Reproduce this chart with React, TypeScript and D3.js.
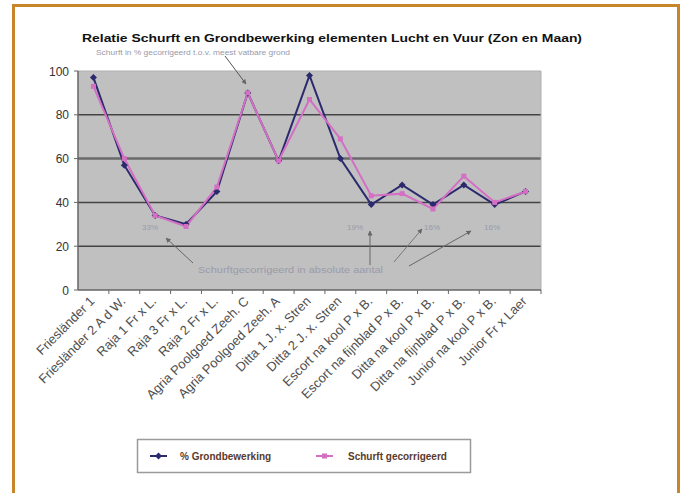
import React from "react";
import * as d3 from "d3";

const categories = [
  "Friesländer 1",
  "Friesländer 2 A d W.",
  "Raja 1 Fr x L.",
  "Raja 3 Fr x L.",
  "Raja 2 Fr x L.",
  "Agria Poolgoed Zeeh. C",
  "Agria Poolgoed Zeeh. A",
  "Ditta 1 J. x. Stren",
  "Ditta 2 J. x. Stren",
  "Escort na kool P x B.",
  "Escort na fijnblad P x B.",
  "Ditta na kool P x B.",
  "Ditta na fijnblad P x B.",
  "Junior na kool P x B.",
  "Junior Fr x Laer",
];
const grondbewerking = [97, 57, 34, 30, 45, 90, 59, 98, 60, 39, 48, 39, 48, 39, 45];
const schurft = [93, 60, 34, 29, 47, 90, 59, 87, 69, 43, 44, 37, 52, 40, 45];
const yTicks = [0, 20, 40, 60, 80, 100];
const seriesNames = ["% Grondbewerking", "Schurft gecorrigeerd"];
const pctLabels = ["33%", "19%", "16%", "16%"];
const title = "Relatie Schurft en Grondbewerking elementen Lucht en Vuur (Zon en Maan)";
const noteTop = "Schurft in % gecorrigeerd t.o.v. meest vatbare grond";
const noteBottom = "Schurftgecorrigeerd in absolute aantal";

export default function App() {
  const left = 78, right = 541, top = 71, bottom = 290;
  const x = d3.scaleBand().domain(categories).range([left, right]);
  const y = d3.scaleLinear().domain([0, 100]).range([bottom, top]);
  const cx = (c: string) => (x(c) as number) + x.bandwidth() / 2;
  const line = d3.line<number>().x((_, i) => cx(categories[i])).y((v) => y(v));
  const navy = "#2b2a6e";
  const pink = "#d46fc4";
  const font = "Arial, 'Liberation Sans', sans-serif";
  const annGray = "#9a9aaa";

  return (
    <svg width={681} height={493} style={{ position: "absolute", left: 0, top: 0 }} fontFamily={font}>
      <defs>
        <marker id="ah" viewBox="0 0 10 10" refX="9" refY="5" markerWidth="5" markerHeight="5" orient="auto">
          <path d="M0,0 L10,5 L0,10 z" fill="#666" />
        </marker>
      </defs>
      <rect x={0} y={0} width={681} height={493} fill="#ffffff" />
      <rect x={13.5} y={5.5} width={665} height={500} fill="#ffffff" stroke="#c8862a" strokeWidth={3} />
      <text x={82} y={42} fontSize={11.5} fontWeight="bold" fill="#111" textLength={500} lengthAdjust="spacingAndGlyphs">{title}</text>
      <text x={96} y={55} fontSize={7} fill={annGray} textLength={194} lengthAdjust="spacingAndGlyphs">{noteTop}</text>

      <rect x={left} y={top} width={right - left} height={bottom - top} fill="#c0c0c0" />
      {yTicks.filter((t) => t > 0 && t < 100).map((t) => (
        <line key={t} x1={left} x2={right} y1={y(t)} y2={y(t)} stroke={t === 60 ? "#6a6a6a" : "#444"} strokeWidth={t === 60 ? 2.5 : 1.5} />
      ))}
      <line x1={left} x2={right} y1={top} y2={top} stroke="#b0b0b0" strokeWidth={1} />
      <line x1={right} x2={right} y1={top} y2={bottom} stroke="#b0b0b0" strokeWidth={1} />
      <line x1={left} x2={left} y1={top} y2={bottom} stroke="#666" strokeWidth={1.5} />
      <line x1={left} x2={right} y1={bottom} y2={bottom} stroke="#666" strokeWidth={1.5} />
      {yTicks.map((t) => (
        <g key={t}>
          <line x1={left - 4} x2={left} y1={y(t)} y2={y(t)} stroke="#666" />
          <text x={left - 9} y={y(t) + 4.5} textAnchor="end" fontSize={12} fill="#333">{t}</text>
        </g>
      ))}
      {categories.map((c, i) => (
        <line key={"t" + i} x1={(x(c) as number) + x.bandwidth()} x2={(x(c) as number) + x.bandwidth()} y1={bottom} y2={bottom + 4} stroke="#666" />
      ))}
      {categories.map((c, i) => (
        <text key={"l" + i} transform={`translate(${cx(c) + 2},${bottom + 12}) rotate(-45)`} textAnchor="end" fontSize={13} fill="#505050">{c}</text>
      ))}

      {/* annotations */}
      <line x1={225} y1={56} x2={246} y2={84} stroke="#555" strokeWidth={1} markerEnd="url(#ah)" />
      <text x={142} y={230} fontSize={8} fill={annGray}>{pctLabels[0]}</text>
      <text x={347} y={230} fontSize={8} fill={annGray}>{pctLabels[1]}</text>
      <text x={424} y={230} fontSize={8} fill={annGray}>{pctLabels[2]}</text>
      <text x={484} y={230} fontSize={8} fill={annGray}>{pctLabels[3]}</text>
      <text x={198} y={273} fontSize={8.5} fill={annGray} textLength={185} lengthAdjust="spacingAndGlyphs">{noteBottom}</text>
      <line x1={193} y1={263} x2={166} y2={238} stroke="#666" strokeWidth={1} markerEnd="url(#ah)" />
      <line x1={370} y1={265} x2={370} y2={231} stroke="#666" strokeWidth={1} markerEnd="url(#ah)" />
      <line x1={394} y1={262} x2={422} y2={229} stroke="#777" strokeWidth={1} markerEnd="url(#ah)" />
      <line x1={409} y1={266} x2={471} y2={231} stroke="#666" strokeWidth={1} markerEnd="url(#ah)" />

      <path d={line(grondbewerking) as string} fill="none" stroke={navy} strokeWidth={2} />
      <path d={line(schurft) as string} fill="none" stroke={pink} strokeWidth={2} />
      {grondbewerking.map((v, i) => {
        const px = cx(categories[i]), py = y(v);
        return <path key={"g" + i} d={`M${px},${py - 3.5}L${px + 3.5},${py}L${px},${py + 3.5}L${px - 3.5},${py}Z`} fill={navy} />;
      })}
      {schurft.map((v, i) => (
        <rect key={"s" + i} x={cx(categories[i]) - 2.5} y={y(v) - 2.5} width={5} height={5} fill={pink} />
      ))}

      {/* legend */}
      <rect x={137.5} y={439.5} width={333} height={33} fill="#ffffff" stroke="#9a9a9a" strokeWidth={1.5} />
      <line x1={150} x2={167} y1={456} y2={456} stroke={navy} strokeWidth={2} />
      <path d="M158.5,452.5L162,456L158.5,459.5L155,456Z" fill={navy} />
      <text x={180} y={459.5} fontSize={10} fontWeight="bold" fill="#5a3a2a">{seriesNames[0]}</text>
      <line x1={316} x2={333} y1={456} y2={456} stroke={pink} strokeWidth={2} />
      <rect x={322} y={453.5} width={5} height={5} fill={pink} />
      <text x={348} y={459.5} fontSize={10} fontWeight="bold" fill="#5a3a2a">{seriesNames[1]}</text>
    </svg>
  );
}
